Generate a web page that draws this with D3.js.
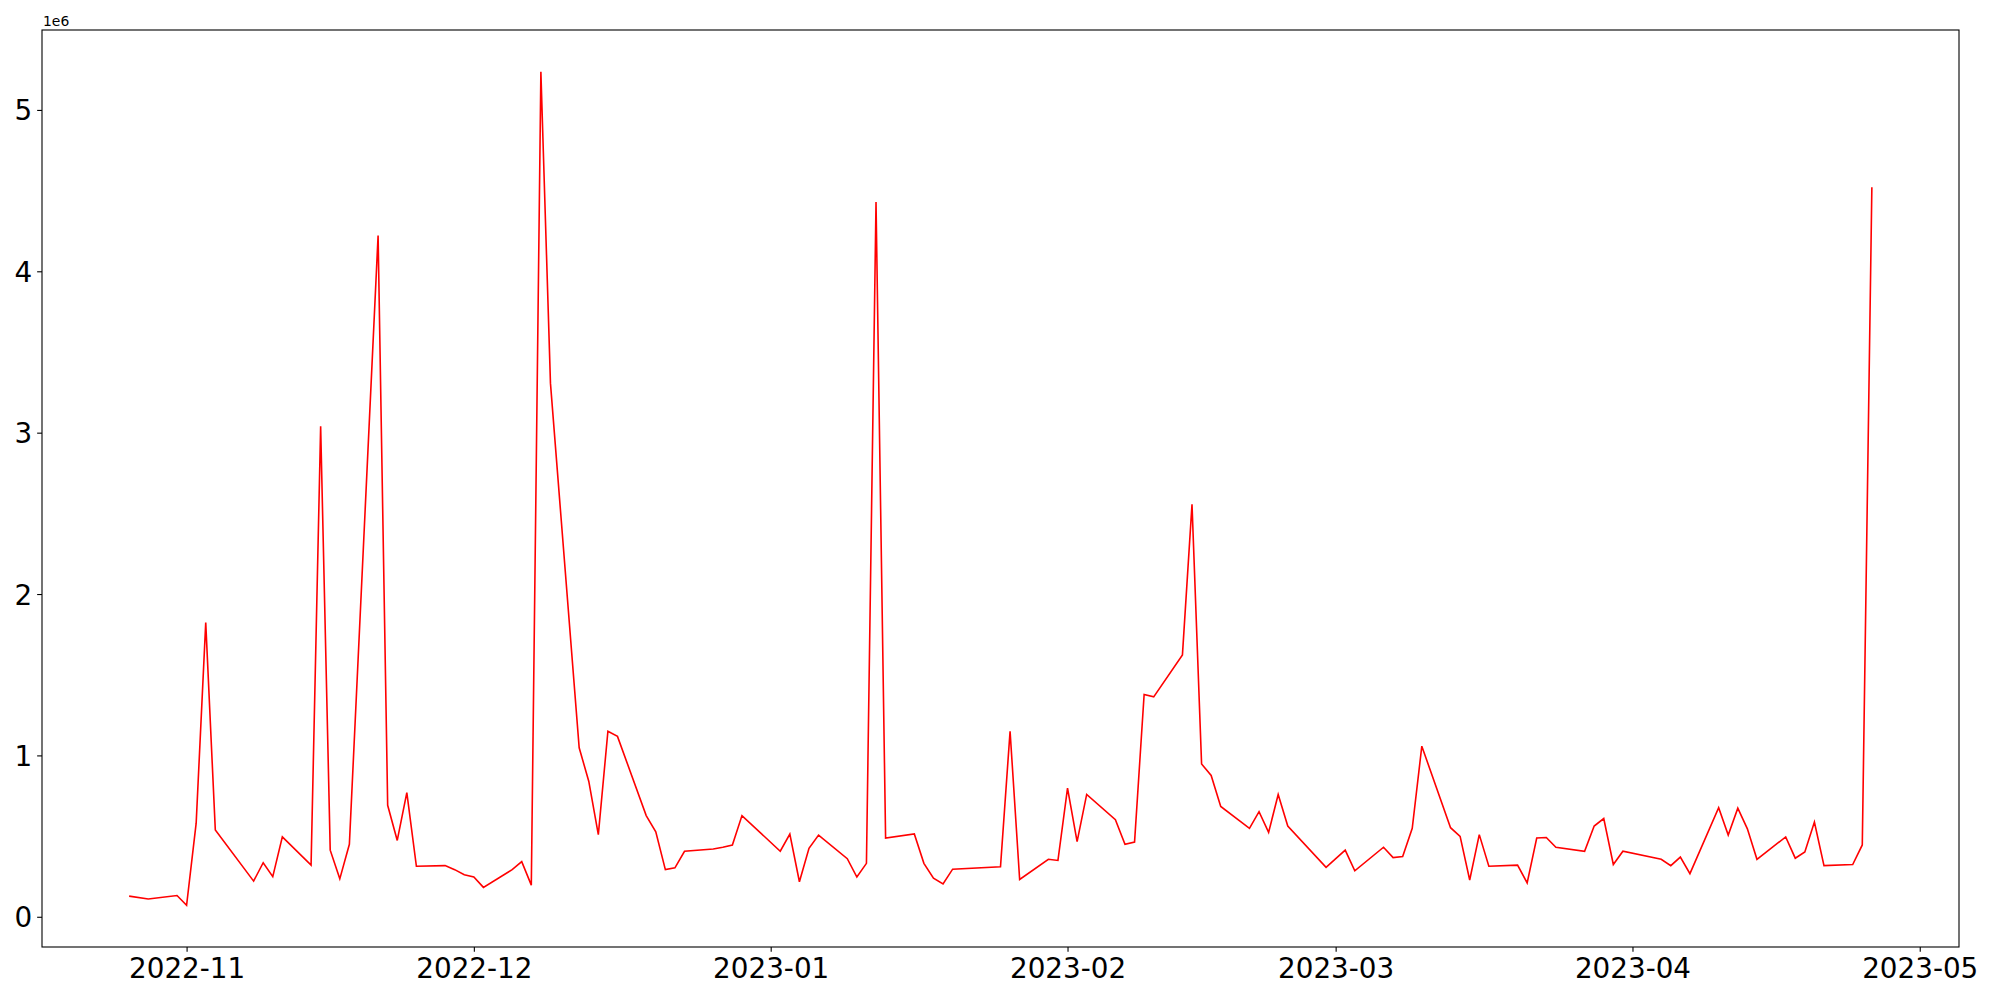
<!DOCTYPE html>
<html>
<head>
<meta charset="utf-8">
<script src="https://cdn.jsdelivr.net/npm/d3@7"></script>
<style>
  body { margin: 0; background: #fff; }
  text { font-family: "DejaVu Sans", sans-serif; }
</style>
</head>
<body>
<div id="chart-area"></div>
<script>
// daily values (units: 1)
var dates = [
  "2022-10-26","2022-10-28","2022-10-31","2022-11-01","2022-11-02","2022-11-03","2022-11-04",
  "2022-11-08","2022-11-09","2022-11-10","2022-11-11","2022-11-14","2022-11-15","2022-11-16",
  "2022-11-17","2022-11-18","2022-11-21","2022-11-22","2022-11-23","2022-11-24","2022-11-25",
  "2022-11-28","2022-11-29","2022-11-30","2022-12-01","2022-12-02","2022-12-05","2022-12-06",
  "2022-12-07","2022-12-08","2022-12-09","2022-12-12","2022-12-13","2022-12-14","2022-12-15",
  "2022-12-16","2022-12-19","2022-12-20","2022-12-21","2022-12-22","2022-12-23","2022-12-26",
  "2022-12-27","2022-12-28","2022-12-29","2023-01-02","2023-01-03","2023-01-04","2023-01-05",
  "2023-01-06","2023-01-09","2023-01-10","2023-01-11","2023-01-12","2023-01-13","2023-01-16",
  "2023-01-17","2023-01-18","2023-01-19","2023-01-20","2023-01-25","2023-01-26","2023-01-27",
  "2023-01-30","2023-01-31","2023-02-01","2023-02-02","2023-02-03","2023-02-06","2023-02-07",
  "2023-02-08","2023-02-09","2023-02-10","2023-02-13","2023-02-14","2023-02-15","2023-02-16",
  "2023-02-17","2023-02-20","2023-02-21","2023-02-22","2023-02-23","2023-02-24","2023-02-28",
  "2023-03-02","2023-03-03","2023-03-06","2023-03-07","2023-03-08","2023-03-09","2023-03-10",
  "2023-03-13","2023-03-14","2023-03-15","2023-03-16","2023-03-17","2023-03-20","2023-03-21",
  "2023-03-22","2023-03-23","2023-03-24","2023-03-27","2023-03-28","2023-03-29","2023-03-30",
  "2023-03-31","2023-04-04","2023-04-05","2023-04-06","2023-04-07","2023-04-10","2023-04-11",
  "2023-04-12","2023-04-13","2023-04-14","2023-04-17","2023-04-18","2023-04-19","2023-04-20",
  "2023-04-21","2023-04-24","2023-04-25","2023-04-26"
];

var values = [
  128000, 110000, 132000, 71000, 580000, 1823000, 538000,
  221000, 335000, 249000, 495000, 320000, 3040000, 413000,
  235000, 449000, 4222000, 691000, 473000, 769000, 313000,
  317000, 292000, 260000, 246000, 182000, 292000, 342000,
  196000, 5237000, 3307000, 1047000, 840000, 509000, 1150000,
  1118000, 627000, 527000, 292000, 303000, 406000, 420000,
  431000, 445000, 627000, 406000, 513000, 217000, 424000,
  506000, 360000, 246000, 331000, 4429000, 488000, 513000,
  331000, 239000, 203000, 295000, 310000, 1150000, 231000,
  356000, 349000, 797000, 466000, 758000, 602000, 449000,
  463000, 1378000, 1363000, 1623000, 2556000, 947000, 876000,
  684000, 548000, 651000, 523000, 758000, 562000, 306000,
  413000, 285000, 431000, 367000, 374000, 548000, 1057000,
  552000, 498000, 228000, 509000, 313000, 320000, 210000,
  488000, 491000, 431000, 406000, 562000, 609000, 324000,
  406000, 356000, 317000, 370000, 267000, 676000, 506000,
  673000, 545000, 356000, 495000, 363000, 402000, 587000,
  317000, 324000, 445000, 4521000
];

var yTicks = [0, 1000000, 2000000, 3000000, 4000000, 5000000];
var xTicks = ["2022-11-01","2022-12-01","2023-01-01","2023-02-01","2023-03-01","2023-04-01","2023-05-01"];

var margin = { left: 42, right: 41, top: 30, bottom: 53 };
var width = 2000 - margin.left - margin.right;
var height = 1000 - margin.top - margin.bottom;

var parse = d3.utcParse("%Y-%m-%d");
var data = dates.map(function(d, i) {
    return { date: parse(d), value: values[i] };
});

var svg = d3.select("#chart-area")
    .append("svg")
    .attr("width", 2000)
    .attr("height", 1000);

svg.append("rect")
    .attr("width", 2000)
    .attr("height", 1000)
    .attr("fill", "white");

var g = svg.append("g")
    .attr("transform", "translate(" + margin.left + "," + margin.top + ")");

// matplotlib style 5% margins
var xExt = d3.extent(data, d => d.date);
var xPad = (xExt[1] - xExt[0]) * 0.05;
var x = d3.scaleUtc()
    .domain([new Date(+xExt[0] - xPad), new Date(+xExt[1] + xPad)])
    .range([0, width]);

var yExt = d3.extent(data, d => d.value);
var yPad = (yExt[1] - yExt[0]) * 0.05;
var y = d3.scaleLinear()
    .domain([yExt[0] - yPad, yExt[1] + yPad])
    .range([height, 0]);

var line = d3.line()
    .x(d => x(d.date))
    .y(d => y(d.value));

g.append("path")
    .datum(data)
    .attr("fill", "none")
    .attr("stroke", "#ff0000")
    .attr("stroke-width", 1.6)
    .attr("stroke-linejoin", "miter")
    .attr("d", line);

var xAxis = g.append("g")
    .attr("transform", "translate(0," + height + ")")
    .call(d3.axisBottom(x)
        .tickValues(xTicks.map(parse))
        .tickFormat(d3.utcFormat("%Y-%m"))
        .tickSize(4.86)
        .tickPadding(4.86)
        .tickSizeOuter(0));

xAxis.selectAll("text")
    .attr("font-size", "27.8px")
    .attr("fill", "#000")
    .attr("dy", "0.78em");

var yAxis = g.append("g")
    .call(d3.axisLeft(y)
        .tickValues(yTicks)
        .tickFormat(d => d / 1000000)
        .tickSize(4.86)
        .tickPadding(4.86)
        .tickSizeOuter(0));

yAxis.selectAll("text")
    .attr("font-size", "27.8px")
    .attr("fill", "#000")
    .attr("dy", "0.36em");

g.selectAll(".domain").remove();
g.selectAll(".tick line").attr("stroke", "#000").attr("stroke-width", 1.1);

// frame
g.append("rect")
    .attr("width", width)
    .attr("height", height)
    .attr("fill", "none")
    .attr("stroke", "#000")
    .attr("stroke-width", 1.1);

// offset text
svg.append("text")
    .attr("x", margin.left + 1)
    .attr("y", margin.top - 4)
    .attr("font-size", "13.9px")
    .text("1e6");
</script>
</body>
</html>
